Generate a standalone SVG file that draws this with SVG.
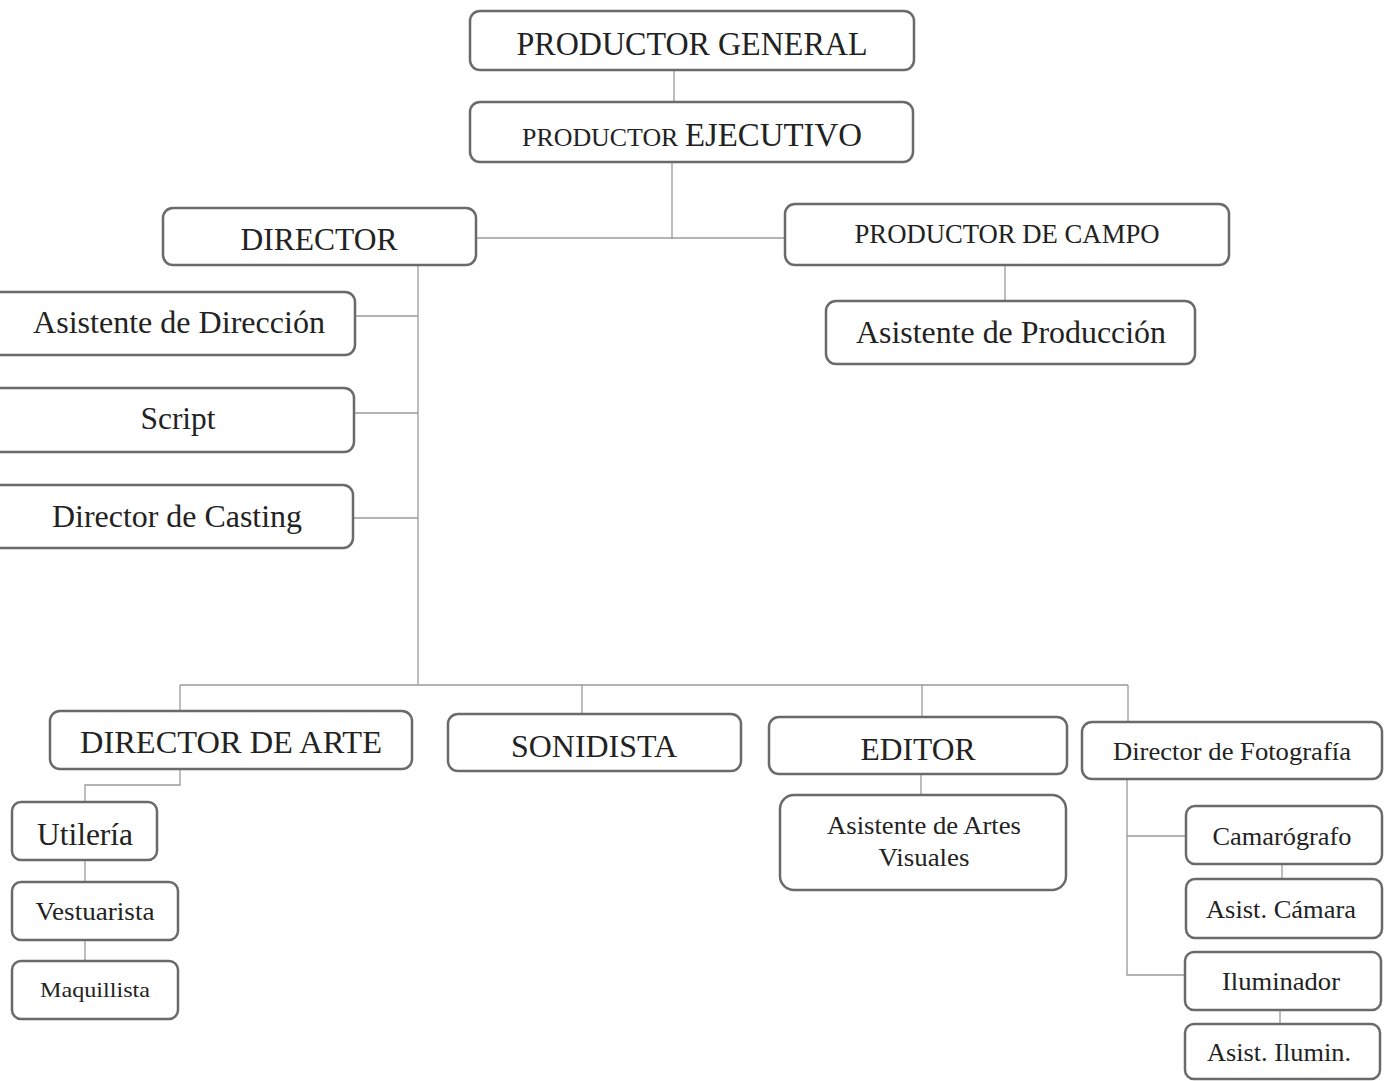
<svg xmlns="http://www.w3.org/2000/svg" width="1393" height="1081" viewBox="0 0 1393 1081">
<style>
.box{fill:#fff;stroke:#6a6a6a;stroke-width:2.5}
.t{font-family:"Liberation Serif","Times New Roman",serif;fill:#222;text-anchor:middle}
.c{fill:none;stroke:#9a9a9a;stroke-width:1.3}
</style>
<rect width="1393" height="1081" fill="#fff"/>
<g id="connectors">
<path class="c" d="M674 70V102"/>
<path class="c" d="M672 162V238M476 238H785"/>
<path class="c" d="M1005 265V302"/>
<path class="c" d="M418 265V685"/>
<path class="c" d="M355 316H418M354 413H418M353 518H418"/>
<path class="c" d="M180 685H1128M180 685V711M582 685V714M922 685V718M1128 685V723"/>
<path class="c" d="M180 769V785H85V803M85 860V883M85 940V962"/>
<path class="c" d="M921 774V796"/>
<path class="c" d="M1127 779V975H1185M1127 836H1186"/>
<path class="c" d="M1282 864V880M1280 1010V1025"/>
</g>
<g id="n-productor-general"><rect class="box" x="470" y="11" width="444" height="59" rx="10"/><text class="t" x="692" y="55" font-size="33" textLength="351" lengthAdjust="spacingAndGlyphs">PRODUCTOR GENERAL</text></g>
<g id="n-productor-ejecutivo"><rect class="box" x="470" y="102" width="443" height="60" rx="10"/><text class="t" x="692" y="146" font-size="33" textLength="340" lengthAdjust="spacingAndGlyphs"><tspan font-size="26">PRODUCTOR </tspan>EJECUTIVO</text></g>
<g id="n-director"><rect class="box" x="163" y="208" width="313" height="57" rx="10"/><text class="t" x="319" y="250" font-size="32" textLength="157" lengthAdjust="spacingAndGlyphs">DIRECTOR</text></g>
<g id="n-productor-campo"><rect class="box" x="785" y="204" width="444" height="61" rx="10"/><text class="t" x="1007" y="243" font-size="28" textLength="305" lengthAdjust="spacingAndGlyphs">PRODUCTOR DE CAMPO</text></g>
<g id="n-asistente-produccion"><rect class="box" x="826" y="301" width="369" height="63" rx="10"/><text class="t" x="1011" y="343" font-size="32" textLength="310" lengthAdjust="spacingAndGlyphs">Asistente de Producción</text></g>
<g id="n-asistente-direccion"><rect class="box" x="-20" y="292" width="375" height="63" rx="10"/><text class="t" x="179" y="333" font-size="32" textLength="292" lengthAdjust="spacingAndGlyphs">Asistente de Dirección</text></g>
<g id="n-script"><rect class="box" x="-20" y="388" width="374" height="64" rx="10"/><text class="t" x="178" y="429" font-size="32" textLength="75" lengthAdjust="spacingAndGlyphs">Script</text></g>
<g id="n-director-casting"><rect class="box" x="-20" y="485" width="373" height="63" rx="10"/><text class="t" x="177" y="527" font-size="32" textLength="250" lengthAdjust="spacingAndGlyphs">Director de Casting</text></g>
<g id="n-director-arte"><rect class="box" x="50" y="711" width="362" height="58" rx="10"/><text class="t" x="231" y="753" font-size="31" textLength="302" lengthAdjust="spacingAndGlyphs">DIRECTOR DE ARTE</text></g>
<g id="n-sonidista"><rect class="box" x="448" y="714" width="293" height="57" rx="10"/><text class="t" x="594" y="757" font-size="31" textLength="166" lengthAdjust="spacingAndGlyphs">SONIDISTA</text></g>
<g id="n-editor"><rect class="box" x="769" y="717" width="298" height="57" rx="10"/><text class="t" x="918" y="760" font-size="31" textLength="115" lengthAdjust="spacingAndGlyphs">EDITOR</text></g>
<g id="n-director-fotografia"><rect class="box" x="1082" y="722" width="300" height="57" rx="10"/><text class="t" x="1232" y="760" font-size="26" textLength="238" lengthAdjust="spacingAndGlyphs">Director de Fotografía</text></g>
<g id="n-utileria"><rect class="box" x="12" y="802" width="145" height="58" rx="9"/><text class="t" x="85" y="845" font-size="31" textLength="96" lengthAdjust="spacingAndGlyphs">Utilería</text></g>
<g id="n-vestuarista"><rect class="box" x="12" y="882" width="166" height="58" rx="9"/><text class="t" x="95" y="920" font-size="25" textLength="119" lengthAdjust="spacingAndGlyphs">Vestuarista</text></g>
<g id="n-maquillista"><rect class="box" x="12" y="961" width="166" height="58" rx="9"/><text class="t" x="95" y="997" font-size="21" textLength="110" lengthAdjust="spacingAndGlyphs">Maquillista</text></g>
<g id="n-asistente-artes"><rect class="box" x="780" y="795" width="286" height="95" rx="14"/><text class="t" x="924" y="834" font-size="25" textLength="194" lengthAdjust="spacingAndGlyphs">Asistente de Artes</text><text class="t" x="924" y="866" font-size="25" textLength="91" lengthAdjust="spacingAndGlyphs">Visuales</text></g>
<g id="n-camarografo"><rect class="box" x="1186" y="806" width="196" height="58" rx="9"/><text class="t" x="1282" y="845" font-size="26" textLength="139" lengthAdjust="spacingAndGlyphs">Camarógrafo</text></g>
<g id="n-asist-camara"><rect class="box" x="1186" y="879" width="196" height="59" rx="9"/><text class="t" x="1281" y="918" font-size="26" textLength="150" lengthAdjust="spacingAndGlyphs">Asist. Cámara</text></g>
<g id="n-iluminador"><rect class="box" x="1185" y="952" width="196" height="58" rx="9"/><text class="t" x="1281" y="990" font-size="26" textLength="118" lengthAdjust="spacingAndGlyphs">Iluminador</text></g>
<g id="n-asist-ilumin"><rect class="box" x="1185" y="1024" width="195" height="55" rx="9"/><text class="t" x="1279" y="1061" font-size="26" textLength="144" lengthAdjust="spacingAndGlyphs">Asist. Ilumin.</text></g>
</svg>
